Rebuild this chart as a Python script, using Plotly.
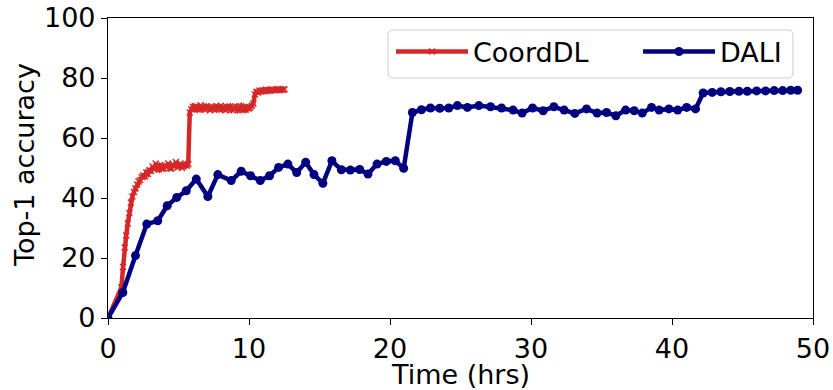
import plotly.graph_objects as go

# ---------------- data ----------------
coord_x = [0.00, 0.95, 1.07, 1.18, 1.29, 1.40, 1.51, 1.62, 1.73, 1.84, 1.95, 2.06, 2.17, 2.28,
           2.39, 2.50, 2.61, 2.72, 2.83, 2.94, 3.05, 3.16, 3.27, 3.38, 3.49, 3.60, 3.71, 3.82,
           3.93, 4.04, 4.15, 4.26, 4.37, 4.48, 4.59, 4.70, 4.81, 4.92, 5.03, 5.14, 5.25, 5.36,
           5.47, 5.58, 5.69,
           5.80, 5.91, 6.02, 6.13, 6.24, 6.35, 6.46, 6.57, 6.68, 6.79, 6.90, 7.01, 7.12, 7.23,
           7.34, 7.45, 7.56, 7.67, 7.78, 7.89, 8.00, 8.11, 8.22, 8.33, 8.44, 8.55, 8.66, 8.77,
           8.88, 8.99, 9.10, 9.21, 9.32, 9.43, 9.54, 9.65, 9.76, 9.87, 9.98, 10.09, 10.20, 10.31,
           10.42, 10.53, 10.64, 10.75, 10.86, 10.97, 11.08, 11.19, 11.30, 11.41, 11.52, 11.63,
           11.74, 11.85, 11.96, 12.07, 12.18, 12.29, 12.40, 12.51]
coord_y = [0.0, 10.2, 17.0, 23.5, 27.5, 31.5, 35.0, 38.5, 40.5, 42.0, 43.2, 44.5, 45.5, 46.0,
           47.0, 47.5, 47.2, 48.5, 48.0, 49.2, 49.0, 50.5, 49.5, 51.5, 50.0, 49.5, 50.8, 50.2,
           49.8, 51.0, 50.3, 51.5, 50.0, 49.8, 51.2, 50.5, 52.0, 50.2, 50.8, 51.5, 50.0, 50.5,
           51.2, 50.8, 51.3,
           68.5, 69.6, 70.4, 69.8, 70.6, 69.5, 70.2, 70.9, 69.7, 70.3, 69.4, 70.5, 70.0, 69.3,
           70.6, 69.8, 70.2, 69.5, 70.4, 69.9, 70.7, 69.6, 70.1, 69.2, 70.3, 69.8, 70.5, 69.4,
           70.0, 69.7, 70.4, 69.3, 69.9, 70.6, 69.5, 70.1, 69.4, 70.3, 69.8, 70.2, 70.8, 71.5,
           74.6, 75.4, 75.2, 75.8, 75.5, 75.9, 75.6, 76.1, 75.7, 76.0, 75.8, 76.2, 75.9, 76.1,
           76.0, 76.3, 75.9, 76.2, 76.1, 76.2]

dali_x = [0.0, 1.05, 1.95, 2.75, 3.53, 4.20, 4.88, 5.55, 6.26, 7.08, 7.79, 8.74, 9.45, 10.11,
          10.80, 11.46, 12.10, 12.76, 13.38, 14.02, 14.61, 15.24, 15.88, 16.55, 17.19, 17.85,
          18.44, 19.08, 19.74, 20.38, 20.97, 21.59, 22.23, 22.87, 23.53, 24.17, 24.78, 25.49,
          26.30, 27.13, 27.91, 28.73, 29.37, 30.11, 30.86, 31.62, 32.35, 33.11, 33.94, 34.69,
          35.36, 36.02, 36.71, 37.32, 37.89, 38.55, 39.09, 39.78, 40.40, 41.04, 41.67, 42.21,
          42.85, 43.47, 44.10, 44.75, 45.34, 46.00, 46.64, 47.25, 47.85, 48.42, 48.91]
dali_y = [0.0, 8.5, 20.8, 31.3, 32.4, 37.4, 40.2, 42.4, 46.3, 40.5, 47.8, 45.8, 48.9, 47.4,
          45.8, 47.4, 50.2, 51.3, 48.5, 51.9, 47.8, 44.9, 52.4, 49.4, 49.3, 49.5,
          48.0, 51.3, 52.2, 52.4, 49.9, 68.5, 69.4, 70.0, 69.9, 70.0, 70.8, 70.2,
          70.8, 70.4, 70.0, 69.3, 68.3, 70.0, 69.1, 70.4, 69.3, 68.2, 69.7, 68.3,
          68.5, 67.4, 69.3, 69.1, 68.3, 70.2, 69.3, 69.7, 69.3, 70.2, 69.7, 75.0,
          75.2, 75.4, 75.5, 75.6, 75.6, 75.7, 75.7, 75.8, 75.8, 75.9, 75.9]

x_ticks = [0, 10, 20, 30, 40, 50]
y_ticks = [0, 20, 40, 60, 80, 100]
x_title = "Time (hrs)"
y_title = "Top-1 accuracy"

RED = "#d62728"
NAVY = "#000080"
FONT = "DejaVu Sans"
FS = 27

W, H = 833, 390
ML, MR, MT, MB = 108, 20, 18, 72
PW, PH = W - ML - MR, H - MT - MB


def px2paper(px, py):
    return (px - ML) / PW, (H - MB - py) / PH


fig = go.Figure()
fig.add_trace(go.Scatter(
    x=coord_x, y=coord_y, mode="lines+markers", name="CoordDL", legend="legend",
    line=dict(color=RED, width=4.5),
    marker=dict(symbol="x-thin", size=6, color=RED, line=dict(color=RED, width=1.5)),
))
fig.add_trace(go.Scatter(
    x=dali_x, y=dali_y, mode="lines+markers", name="DALI", legend="legend2",
    line=dict(color=NAVY, width=4.5),
    marker=dict(symbol="circle", size=9, color=NAVY),
))

axis_common = dict(
    showgrid=False, zeroline=False, showline=True, linecolor="black", linewidth=1.2,
    mirror=True, ticks="outside", ticklen=6, tickwidth=1.2, tickcolor="black",
    tickfont=dict(family=FONT, size=FS, color="black"), automargin=False,
)
fig.update_xaxes(range=[0, 50], tickvals=x_ticks, ticktext=[str(v) for v in x_ticks], **axis_common)
fig.update_yaxes(range=[0, 100], tickvals=y_ticks, ticktext=[str(v) for v in y_ticks], **axis_common)

# axis titles
tx, ty = px2paper(0, 374)
fig.add_annotation(text=x_title, xref="paper", yref="paper", x=0.5, y=ty,
                   xanchor="center", yanchor="middle", showarrow=False,
                   font=dict(family=FONT, size=FS, color="black"))
tx, ty = px2paper(24, 165)
fig.add_annotation(text=y_title, xref="paper", yref="paper", x=tx, y=ty, textangle=-90,
                   xanchor="center", yanchor="middle", showarrow=False,
                   font=dict(family=FONT, size=FS, color="black"))

# legend frame (rounded box, matplotlib style)
bx0, by0, bx1, by1, r = 388, 30, 793, 78, 5
def P(px, py):
    a, b = px2paper(px, py)
    return f"{a:.5f},{b:.5f}"
path = (f"M {P(bx0 + r, by0)} L {P(bx1 - r, by0)} Q {P(bx1, by0)} {P(bx1, by0 + r)} "
        f"L {P(bx1, by1 - r)} Q {P(bx1, by1)} {P(bx1 - r, by1)} "
        f"L {P(bx0 + r, by1)} Q {P(bx0, by1)} {P(bx0, by1 - r)} "
        f"L {P(bx0, by0 + r)} Q {P(bx0, by0)} {P(bx0 + r, by0)} Z")
fig.add_shape(type="path", path=path, xref="paper", yref="paper",
              line=dict(color="#cccccc", width=1), fillcolor="rgba(255,255,255,0.8)", layer="above")

lx1, ly = px2paper(391, 52)
lx2, _ = px2paper(638, 52)
leg_common = dict(orientation="h", yanchor="middle", xanchor="left", y=ly,
                  bgcolor="rgba(0,0,0,0)", borderwidth=0, itemwidth=72,
                  font=dict(family=FONT, size=FS, color="black"))
fig.update_layout(
    width=W, height=H,
    margin=dict(l=ML, r=MR, t=MT, b=MB, pad=0),
    plot_bgcolor="white", paper_bgcolor="white",
    font=dict(family=FONT, color="black"),
    legend=dict(x=lx1, **leg_common),
    legend2=dict(x=lx2, **leg_common),
    showlegend=True,
)

fig.write_html("out.html", config={"displayModeBar": False})

# remove the default 8px body margin of the page so the figure sits at the window origin
with open("out.html", "r", encoding="utf-8") as f:
    html = f.read()
html = html.replace("<head>", "<head><style>html,body{margin:0;padding:0;overflow:hidden;}</style>", 1)
with open("out.html", "w", encoding="utf-8") as f:
    f.write(html)
